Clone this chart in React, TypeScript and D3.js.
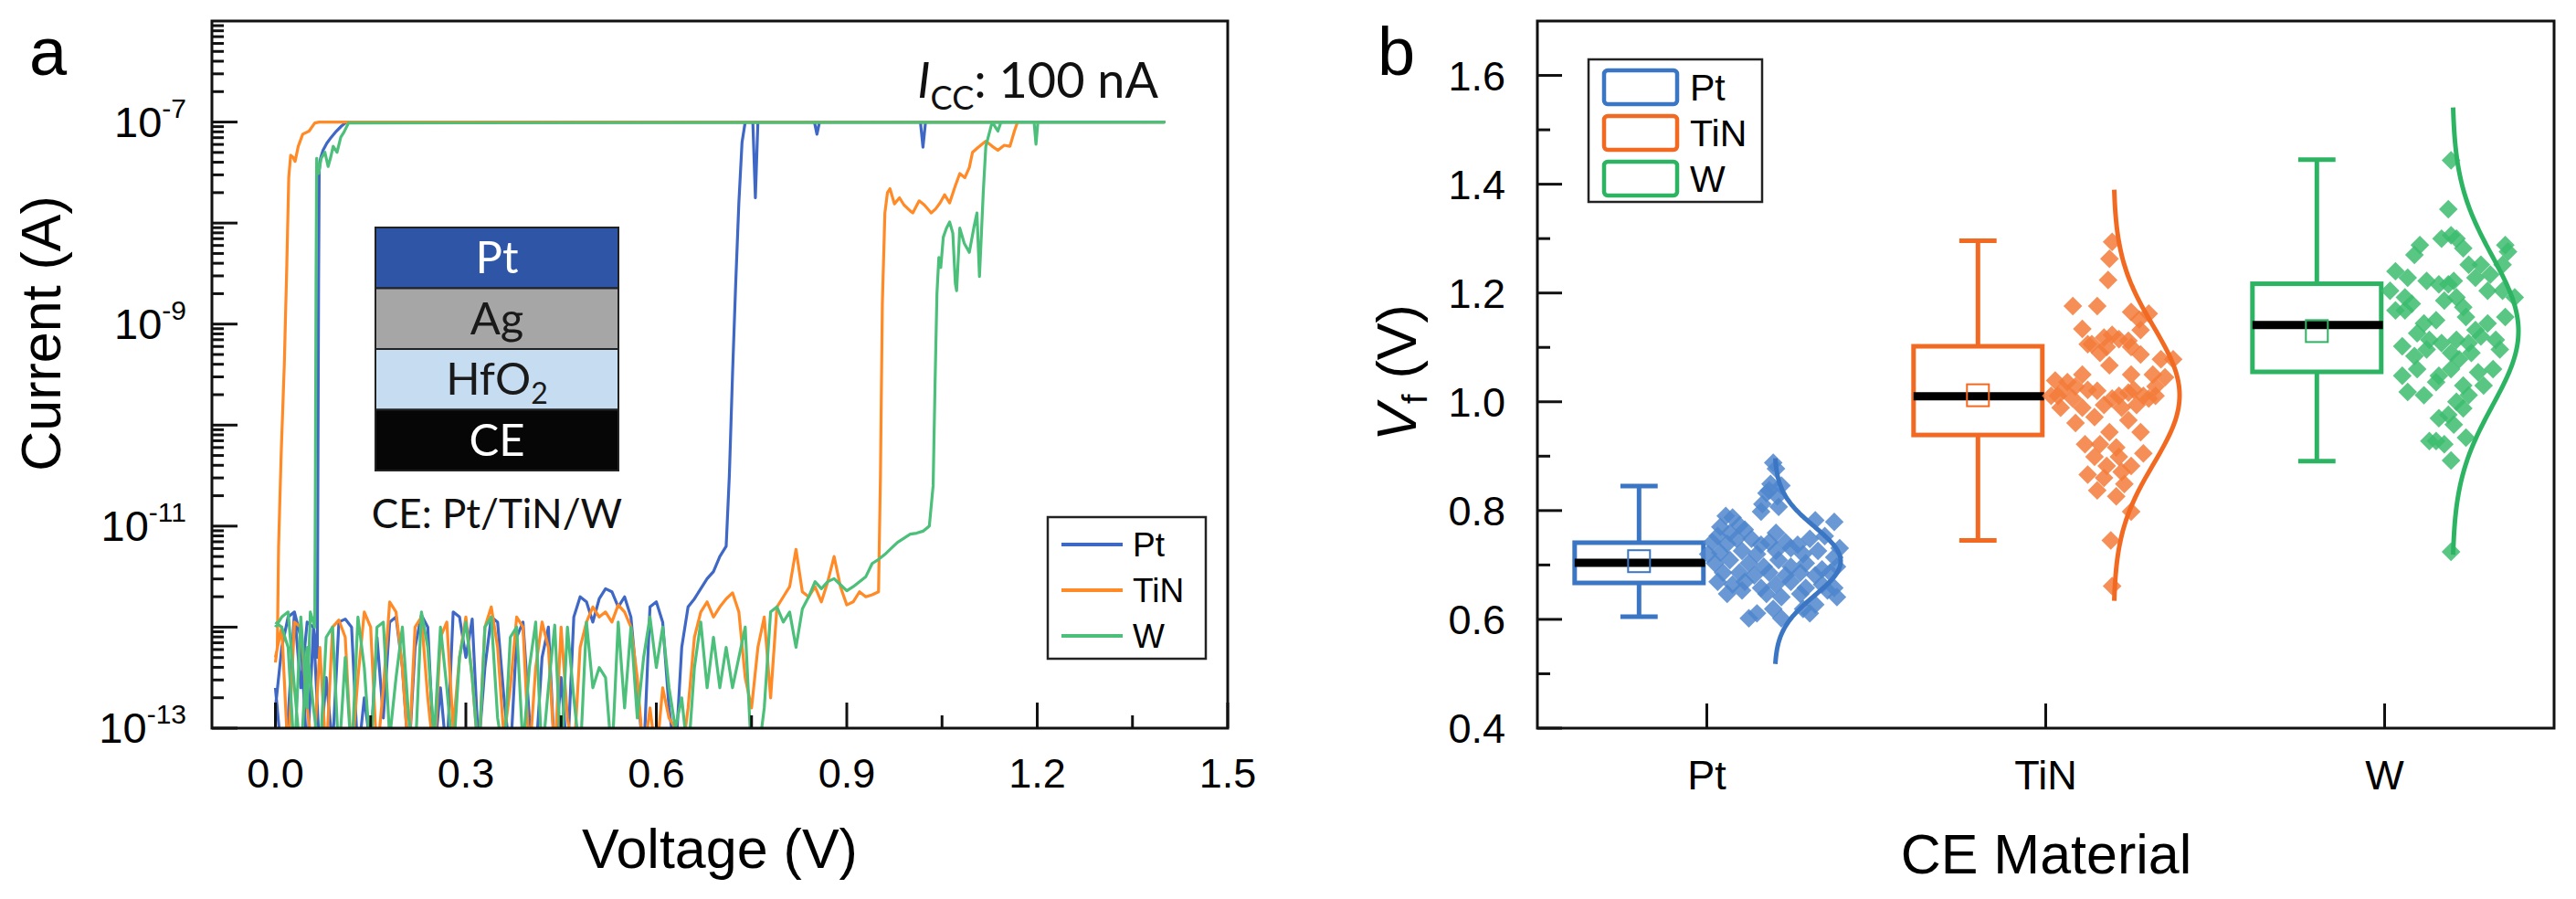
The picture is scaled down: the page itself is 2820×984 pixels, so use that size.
import * as d3 from "d3";
import React, { useEffect, useRef } from "react";

/* ---------------- panel a: I-V sweeps, current kept as log10(I / A) ---------------- */

// forward sweep noise floor, one reading every 10 mV starting at 0 V
const ptNoise = [
  -12.8, -12.2, -11.9, -11.85, -12.6, -11.95, -12.0, -13.3, -12.5, -13.2,
  -11.95, -11.92, -12.0, -13.3, -12.7, -13.2, -12.1, -12.9, -11.95, -11.9,
  -12.4, -13.3, -12.2, -11.88, -12.0, -13.3, -12.6, -13.3, -11.85, -11.9,
  -12.3, -11.92, -13.2, -12.4, -11.9, -11.95, -12.7, -13.3, -12.1, -11.95,
  -12.9, -13.3, -12.3, -12.0, -13.3, -12.5, -13.3, -11.9, -11.7, -11.75,
  -11.95, -11.72, -11.62, -11.65, -11.8, -11.7, -11.9, -12.6, -13.3, -11.8,
  -11.75, -11.95, -12.8, -13.3, -12.2, -11.8, -11.72, -11.62, -11.52, -11.45,
  -11.3, -11.2,
];
const tinNoise = [
  -12.3, -12.0, -13.3, -11.95, -12.0, -12.8, -13.3, -12.2, -13.3, -12.0,
  -11.93, -12.1, -13.3, -12.5, -11.85, -12.0, -13.3, -12.6, -11.75, -11.85,
  -12.4, -13.3, -12.0, -11.9, -12.7, -13.3, -12.1, -11.95, -13.0, -12.3,
  -11.9, -12.5, -13.3, -12.0, -11.8, -12.2, -13.1, -12.6, -11.9, -12.0,
  -13.3, -12.4, -11.95, -12.2, -13.3, -12.0, -12.9, -13.3, -12.2, -11.95,
  -11.8, -11.9, -11.85, -11.95, -11.78, -11.85, -12.0, -12.5, -13.3, -12.8,
  -13.3, -12.6, -12.9, -13.0, -13.3, -12.8, -12.1, -11.85, -11.75, -11.9,
  -11.8, -11.72, -11.66, -11.85, -12.5, -12.8, -12.2, -11.9, -12.7, -11.8,
  -11.7, -11.6, -11.23, -11.65, -11.7, -11.6, -11.75, -11.55, -11.3, -11.6,
  -11.78, -11.75, -11.65, -11.7, -11.68, -11.65,
];
const wNoise = [
  -12.0, -11.9, -11.85, -12.6, -13.3, -12.2, -12.8, -13.3, -12.1, -12.0,
  -13.3, -12.3, -13.3, -11.9, -12.4, -13.3, -12.0, -11.95, -13.1, -12.5,
  -12.0, -12.9, -13.3, -11.85, -12.2, -13.1, -12.0, -12.6, -13.3, -12.3,
  -11.95, -12.5, -13.3, -12.0, -11.9, -12.9, -13.3, -12.1, -12.0, -13.2,
  -12.4, -11.95, -13.3, -12.6, -11.98, -13.3, -12.0, -12.7, -13.3, -11.95,
  -12.6, -12.4, -12.5, -13.3, -11.95, -12.8, -12.0, -12.9, -12.3, -11.9,
  -12.4, -12.0, -12.6, -13.0, -12.7, -13.3, -12.4, -11.95, -12.6, -12.1,
  -12.6, -12.2, -12.6, -12.3, -12.0, -13.3, -13.3, -12.8, -11.85, -11.8,
  -11.95, -11.85, -12.2, -11.82, -11.7, -11.55, -11.62, -11.55, -11.52, -11.58,
  -11.64, -11.6, -11.55, -11.5, -11.37, -11.33, -11.28, -11.22, -11.16, -11.12,
  -11.08, -11.07, -11.05, -11.0,
];

// switching to compliance and on to 1.4 V, [V, log10 I]
const ptSet: [number, number][] = [
  [0.715, -10.5], [0.72, -9.5], [0.725, -8.6], [0.73, -7.8], [0.735, -7.2], [0.74, -7.0],
  [0.752, -7.0], [0.756, -7.75], [0.76, -7.0], [0.849, -7.0], [0.853, -7.12], [0.857, -7.0],
  [1.016, -7.0], [1.02, -7.25], [1.024, -7.0], [1.4, -7.0],
];
const tinSet: [number, number][] = [
  [0.953, -10.5], [0.956, -8.8], [0.96, -7.9], [0.964, -7.7], [0.968, -7.66], [0.975, -7.81],
  [0.983, -7.75], [0.99, -7.82], [1.0, -7.88], [1.004, -7.9], [1.014, -7.78], [1.022, -7.82],
  [1.033, -7.9], [1.04, -7.86], [1.047, -7.8], [1.054, -7.72], [1.062, -7.8], [1.071, -7.63],
  [1.078, -7.51], [1.086, -7.55], [1.093, -7.45], [1.098, -7.3], [1.107, -7.25], [1.119, -7.19],
  [1.129, -7.24], [1.138, -7.28], [1.148, -7.23], [1.157, -7.24], [1.164, -7.09], [1.169, -7.0],
  [1.4, -7.0],
];
const wSet: [number, number][] = [
  [1.036, -10.6], [1.039, -9.6], [1.042, -8.7], [1.045, -8.34], [1.048, -8.44], [1.052, -8.14],
  [1.057, -8.05], [1.062, -7.99], [1.067, -8.1], [1.071, -8.6], [1.073, -8.67], [1.078, -8.05],
  [1.085, -8.2], [1.093, -8.29], [1.1, -8.05], [1.105, -7.9], [1.109, -8.53], [1.115, -7.69],
  [1.119, -7.24], [1.124, -7.12], [1.129, -7.0], [1.134, -7.05], [1.138, -7.09], [1.143, -7.0],
  [1.195, -7.0], [1.198, -7.22], [1.201, -7.0], [1.4, -7.0],
];

// return sweep from 1.4 V back to 0 V
const ptReturn: [number, number][] = [
  [1.4, -7.0], [0.112, -7.0], [0.104, -7.04], [0.096, -7.09], [0.088, -7.15], [0.081, -7.21],
  [0.075, -7.28], [0.071, -7.36], [0.069, -7.48], [0.068, -8.6], [0.067, -10.4], [0.066, -12.3],
  [0.06, -12.0], [0.05, -13.3], [0.04, -12.1], [0.03, -11.85], [0.02, -12.9], [0.01, -13.3], [0.0, -12.6],
];
const tinReturn: [number, number][] = [
  [1.4, -7.0], [0.069, -7.0], [0.062, -7.01], [0.053, -7.09], [0.043, -7.12], [0.036, -7.24],
  [0.031, -7.39], [0.028, -7.35], [0.024, -7.33], [0.021, -7.55], [0.018, -8.4], [0.014, -9.4],
  [0.009, -10.3], [0.005, -11.2], [0.003, -12.2], [0.0, -12.35],
];
const wReturn: [number, number][] = [
  [1.4, -7.0], [0.115, -7.01], [0.108, -7.1], [0.103, -7.15], [0.097, -7.3], [0.091, -7.24],
  [0.087, -7.35], [0.083, -7.44], [0.078, -7.3], [0.072, -7.36], [0.068, -7.51], [0.065, -7.36],
  [0.064, -8.6], [0.063, -10.5], [0.062, -12.0], [0.055, -11.85], [0.05, -12.8], [0.04, -11.9],
  [0.03, -13.3], [0.02, -12.2], [0.01, -12.0], [0.0, -11.95],
];

const sweepNames = ["Pt", "TiN", "W"];
const sweepColors = ["#3f68c6", "#ff8a26", "#4cc07a"];
const voltageTicks = [0, 0.3, 0.6, 0.9, 1.2, 1.5];
const voltageMinorTicks = [0.15, 0.45, 0.75, 1.05, 1.35];
const currentLabelExps = [-7, -9, -11, -13];

/* ---------------- panel b: forming voltage per CE material ---------------- */

const materials = ["Pt", "TiN", "W"];
const whiskerLow = [0.605, 0.745, 0.891];
const quart1 = [0.667, 0.939, 1.055];
const medians = [0.704, 1.01, 1.141];
const quart3 = [0.741, 1.102, 1.217];
const whiskerHigh = [0.845, 1.296, 1.445];
const means = [0.707, 1.012, 1.13];
const stdDevs = [0.063, 0.126, 0.137];
const boxColors = ["#3b76c4", "#f26a22", "#2db463"];
const dotColors = ["#4f86cc", "#f37b3a", "#3cbc6e"];
const vfTicks = [0.4, 0.6, 0.8, 1.0, 1.2, 1.4, 1.6];
const vfMinorTicks = [0.5, 0.7, 0.9, 1.1, 1.3, 1.5];

// [jitter 0..1, Vf]
const ptVf: [number, number][] = [
  [0.49, 0.888], [0.51, 0.877], [0.47, 0.849], [0.55, 0.846], [0.44, 0.832], [0.52, 0.826],
  [0.41, 0.812], [0.4, 0.798], [0.53, 0.807], [0.46, 0.837], [0.14, 0.79], [0.19, 0.787],
  [0.1, 0.77], [0.24, 0.773], [0.28, 0.765], [0.17, 0.759], [0.51, 0.759], [0.8, 0.782],
  [0.94, 0.779], [0.08, 0.753], [0.04, 0.742], [0.15, 0.739], [0.22, 0.748], [0.33, 0.748],
  [0.4, 0.737], [0.46, 0.742], [0.58, 0.742], [0.67, 0.737], [0.76, 0.748], [0.87, 0.753],
  [0.98, 0.731], [0.01, 0.72], [0.1, 0.723], [0.26, 0.726], [0.37, 0.72], [0.51, 0.726],
  [0.62, 0.731], [0.71, 0.72], [0.82, 0.726], [0.94, 0.714], [0.06, 0.703], [0.17, 0.709],
  [0.31, 0.703], [0.42, 0.697], [0.53, 0.709], [0.62, 0.697], [0.73, 0.703], [0.85, 0.692],
  [0.96, 0.697], [0.12, 0.686], [0.24, 0.686], [0.35, 0.681], [0.46, 0.686], [0.58, 0.681],
  [0.69, 0.686], [0.8, 0.681], [0.91, 0.686], [0.08, 0.669], [0.19, 0.664], [0.28, 0.669],
  [0.4, 0.658], [0.51, 0.664], [0.62, 0.669], [0.73, 0.658], [0.85, 0.664], [0.94, 0.658],
  [0.15, 0.647], [0.26, 0.653], [0.44, 0.647], [0.55, 0.641], [0.69, 0.647], [0.89, 0.653],
  [0.96, 0.641], [0.31, 0.602], [0.37, 0.611], [0.49, 0.619], [0.55, 0.602], [0.71, 0.619],
  [0.8, 0.627], [0.76, 0.611],
];
const tinVf: [number, number][] = [
  [0.49, 1.294], [0.47, 1.263], [0.46, 1.224], [0.2, 1.176], [0.38, 1.176], [0.27, 1.134],
  [0.63, 1.165], [0.76, 1.162], [0.69, 1.151], [0.34, 1.106], [0.43, 1.118], [0.49, 1.123],
  [0.54, 1.115], [0.61, 1.112], [0.7, 1.132], [0.94, 1.078], [0.4, 1.09], [0.7, 1.087],
  [0.85, 1.078], [0.47, 1.067], [0.63, 1.05], [0.79, 1.05], [0.88, 1.045], [0.07, 1.039],
  [0.16, 1.036], [0.27, 1.05], [0.31, 1.022], [0.38, 1.02], [0.54, 1.011], [0.61, 1.017],
  [0.72, 1.011], [0.81, 1.011], [0.04, 1.011], [0.2, 1.006], [0.43, 0.994], [0.56, 0.989],
  [0.67, 0.994], [0.11, 0.989], [0.27, 0.989], [0.36, 0.972], [0.22, 0.961], [0.47, 0.944],
  [0.61, 0.966], [0.7, 0.944], [0.29, 0.922], [0.4, 0.922], [0.52, 0.916], [0.72, 0.905],
  [0.36, 0.899], [0.54, 0.899], [0.45, 0.882], [0.63, 0.882], [0.31, 0.866], [0.43, 0.86],
  [0.56, 0.871], [0.38, 0.837], [0.52, 0.826], [0.58, 0.849], [0.63, 0.798], [0.48, 0.745],
  [0.49, 0.661], [0.76, 1.006], [0.09, 1.011], [0.22, 1.028], [0.63, 1.101], [0.81, 1.028],
  [0.31, 1.106], [0.45, 1.101], [0.65, 1.022], [0.13, 1.022], [0.49, 1.006],
];
const wVf: [number, number][] = [
  [0.49, 1.444], [0.47, 1.354], [0.26, 1.288], [0.22, 1.27], [0.49, 1.306], [0.42, 1.3],
  [0.53, 1.3], [0.58, 1.282], [0.89, 1.288], [0.91, 1.276], [0.62, 1.252], [0.71, 1.252],
  [0.08, 1.24], [0.17, 1.228], [0.31, 1.222], [0.4, 1.216], [0.47, 1.216], [0.51, 1.222],
  [0.67, 1.228], [0.78, 1.234], [0.96, 1.192], [0.04, 1.204], [0.15, 1.192], [0.2, 1.18],
  [0.44, 1.186], [0.53, 1.192], [0.58, 1.174], [0.76, 1.204], [0.87, 1.204], [0.08, 1.168],
  [0.29, 1.144], [0.38, 1.15], [0.67, 1.132], [0.76, 1.144], [0.89, 1.156], [0.24, 1.126],
  [0.33, 1.114], [0.42, 1.108], [0.53, 1.114], [0.62, 1.108], [0.71, 1.12], [0.82, 1.114],
  [0.13, 1.102], [0.22, 1.084], [0.31, 1.096], [0.49, 1.09], [0.55, 1.078], [0.64, 1.09],
  [0.85, 1.096], [0.13, 1.048], [0.24, 1.06], [0.4, 1.048], [0.49, 1.06], [0.69, 1.054],
  [0.8, 1.06], [0.17, 1.018], [0.29, 1.012], [0.38, 1.036], [0.58, 1.03], [0.73, 1.03],
  [0.53, 1.0], [0.62, 1.012], [0.47, 0.976], [0.58, 0.988], [0.4, 0.97], [0.51, 0.958],
  [0.38, 0.928], [0.44, 0.922], [0.6, 0.934], [0.49, 0.892], [0.49, 0.724], [0.33, 0.928],
  [0.87, 1.252], [0.15, 1.168], [0.6, 1.156],
];

const ARIAL = "'Liberation Sans', Arial, sans-serif";
const CALIBRI = "Lato, 'Open Sans', sans-serif";

const App: React.FC = () => {
  const svgRef = useRef<SVGSVGElement>(null);

  useEffect(() => {
    if (!svgRef.current) return;
    document.body.style.margin = "0";
    const svg = d3.select(svgRef.current);
    svg.selectAll("*").remove();

    /* ======================= panel a ======================= */
    const ax = d3.scaleLinear().domain([-0.1, 1.5]).range([232, 1344]);
    const ay = d3.scaleLog().domain([1e-13, 1e-6]).range([797, 23]);
    const a = svg.append("g");

    a.append("defs")
      .append("clipPath")
      .attr("id", "clipA")
      .append("rect")
      .attr("x", ax.range()[0])
      .attr("y", ay.range()[1])
      .attr("width", ax.range()[1] - ax.range()[0])
      .attr("height", ay.range()[0] - ay.range()[1]);

    const series = [
      [ptNoise, ptSet, ptReturn],
      [tinNoise, tinSet, tinReturn],
      [wNoise, wSet, wReturn],
    ].map(([noise, set, ret]) => {
      const fwd = (noise as number[]).map((v, i) => [i * 0.01, v] as [number, number]);
      return [...fwd, ...(set as [number, number][]), ...(ret as [number, number][])];
    });

    const line = d3
      .line<[number, number]>()
      .x((d) => ax(d[0]))
      .y((d) => ay(Math.pow(10, d[1])));

    a.append("g")
      .attr("clip-path", "url(#clipA)")
      .selectAll("path")
      .data(series)
      .enter()
      .append("path")
      .attr("d", (d) => line(d))
      .attr("fill", "none")
      .attr("stroke", (_, i) => sweepColors[i])
      .attr("stroke-width", 3.2)
      .attr("stroke-linejoin", "round");

    // ticks, inward
    const axTicks = a.append("g").attr("stroke", "#111").attr("stroke-width", 3);
    voltageTicks.forEach((v) => {
      axTicks.append("line").attr("x1", ax(v)).attr("x2", ax(v)).attr("y1", 797).attr("y2", 797 - 28);
    });
    voltageMinorTicks.forEach((v) => {
      axTicks.append("line").attr("x1", ax(v)).attr("x2", ax(v)).attr("y1", 797).attr("y2", 797 - 14);
    });
    for (let e = -13; e <= -7; e++) {
      for (let k = 1; k <= 9; k++) {
        const yy = ay(k * Math.pow(10, e));
        axTicks.append("line").attr("x1", 232).attr("x2", 232 + (k === 1 ? 28 : 13)).attr("y1", yy).attr("y2", yy);
      }
    }

    a.append("rect")
      .attr("x", 232)
      .attr("y", 23)
      .attr("width", 1344 - 232)
      .attr("height", 797 - 23)
      .attr("fill", "none")
      .attr("stroke", "#111")
      .attr("stroke-width", 3);

    // tick labels
    a.selectAll(".xl")
      .data(voltageTicks)
      .enter()
      .append("text")
      .attr("x", (d) => ax(d))
      .attr("y", 862)
      .attr("text-anchor", "middle")
      .style("font-family", ARIAL)
      .style("font-size", "45px")
      .text((d) => d3.format(".1f")(d));

    currentLabelExps.forEach((e) => {
      const t = a
        .append("text")
        .attr("x", 204)
        .attr("y", ay(Math.pow(10, e)) + 16)
        .attr("text-anchor", "end")
        .style("font-family", ARIAL)
        .style("font-size", "47px");
      t.append("tspan").text("10");
      t.append("tspan").attr("dy", -21).style("font-size", "30px").text(String(e));
    });

    a.append("text")
      .attr("x", 788)
      .attr("y", 950)
      .attr("text-anchor", "middle")
      .style("font-family", ARIAL)
      .style("font-size", "61px")
      .text("Voltage (V)");
    a.append("text")
      .attr("transform", "translate(66,365) rotate(-90)")
      .attr("text-anchor", "middle")
      .style("font-family", ARIAL)
      .style("font-size", "61px")
      .text("Current (A)");

    a.append("text")
      .attr("x", 32)
      .attr("y", 82)
      .style("font-family", ARIAL)
      .style("font-size", "74px")
      .text("a");

    // compliance label
    const icc = a
      .append("text")
      .attr("x", 1268)
      .attr("y", 107)
      .attr("text-anchor", "end")
      .style("font-family", CALIBRI)
      .style("font-size", "54px")
      .attr("fill", "#111");
    icc.append("tspan").style("font-style", "italic").text("I");
    icc.append("tspan").attr("dy", 13).style("font-size", "36px").text("CC");
    icc.append("tspan").attr("dy", -13).text(": 100 nA");

    // stack inset
    const layers = [
      { name: "Pt", fill: "#2f56a6", text: "#fff" },
      { name: "Ag", fill: "#a6a6a6", text: "#1a1a1a" },
      { name: "HfO", fill: "#c6dcf1", text: "#1a1a1a" },
      { name: "CE", fill: "#060606", text: "#fff" },
    ];
    const inset = a.append("g");
    const lh = 66.5;
    layers.forEach((l, i) => {
      inset
        .append("rect")
        .attr("x", 411)
        .attr("y", 249 + i * lh)
        .attr("width", 266)
        .attr("height", lh)
        .attr("fill", l.fill)
        .attr("stroke", "#222")
        .attr("stroke-width", 2);
      const t = inset
        .append("text")
        .attr("x", 544)
        .attr("y", 249 + i * lh + lh / 2 + 17)
        .attr("text-anchor", "middle")
        .style("font-family", CALIBRI)
        .style("font-size", "49px")
        .attr("fill", l.text);
      t.append("tspan").text(l.name);
      if (l.name === "HfO") t.append("tspan").attr("dy", 10).style("font-size", "32px").text("2");
    });
    inset
      .append("text")
      .attr("x", 544)
      .attr("y", 578)
      .attr("text-anchor", "middle")
      .style("font-family", CALIBRI)
      .style("font-size", "44px")
      .attr("fill", "#111")
      .text("CE: Pt/TiN/W");

    // legend a
    const legA = a.append("g");
    legA
      .append("rect")
      .attr("x", 1147)
      .attr("y", 566)
      .attr("width", 173)
      .attr("height", 155)
      .attr("fill", "#fff")
      .attr("stroke", "#222")
      .attr("stroke-width", 2.5);
    sweepNames.forEach((n, i) => {
      const yy = 596 + i * 50;
      legA.append("line").attr("x1", 1162).attr("x2", 1229).attr("y1", yy).attr("y2", yy)
        .attr("stroke", sweepColors[i]).attr("stroke-width", 4);
      legA.append("text").attr("x", 1240).attr("y", yy + 13)
        .style("font-family", ARIAL).style("font-size", "37px").text(n);
    });

    /* ======================= panel b ======================= */
    const bx = d3.scaleLinear().domain([0.5, 3.5]).range([1683, 2796]);
    const by = d3.scaleLinear().domain([0.4, 1.7]).range([797, 23]);
    const b = svg.append("g");

    const groups = [ptVf, tinVf, wVf];

    materials.forEach((m, i) => {
      const c = i + 1;
      const col = boxColors[i];
      const cx = bx(c - 0.2);
      const g = b.append("g");
      // whiskers
      g.append("line").attr("x1", cx).attr("x2", cx).attr("y1", by(whiskerHigh[i])).attr("y2", by(quart3[i]))
        .attr("stroke", col).attr("stroke-width", 5);
      g.append("line").attr("x1", cx).attr("x2", cx).attr("y1", by(quart1[i])).attr("y2", by(whiskerLow[i]))
        .attr("stroke", col).attr("stroke-width", 5);
      [whiskerHigh[i], whiskerLow[i]].forEach((v) => {
        g.append("line").attr("x1", bx(c - 0.255)).attr("x2", bx(c - 0.145)).attr("y1", by(v)).attr("y2", by(v))
          .attr("stroke", col).attr("stroke-width", 5);
      });
      // box
      g.append("rect")
        .attr("x", bx(c - 0.39))
        .attr("y", by(quart3[i]))
        .attr("width", bx(c - 0.01) - bx(c - 0.39))
        .attr("height", by(quart1[i]) - by(quart3[i]))
        .attr("fill", "none")
        .attr("stroke", col)
        .attr("stroke-width", 5);
      // median
      g.append("line").attr("x1", bx(c - 0.39)).attr("x2", bx(c - 0.005)).attr("y1", by(medians[i])).attr("y2", by(medians[i]))
        .attr("stroke", "#000").attr("stroke-width", 9);
      // mean
      g.append("rect").attr("x", cx - 12).attr("y", by(means[i]) - 12).attr("width", 24).attr("height", 24)
        .attr("fill", "none").attr("stroke", col).attr("stroke-width", 2);

      // data points
      const sym = d3.symbol().type(d3.symbolSquare).size(210)();
      g.append("g")
        .selectAll("path")
        .data(groups[i])
        .enter()
        .append("path")
        .attr("d", sym)
        .attr("transform", (d) => `translate(${bx(c + d[0] * 0.4)},${by(d[1])}) rotate(45)`)
        .attr("fill", dotColors[i])
        .attr("fill-opacity", 0.85);

      // fitted normal curve
      const zs = d3.range(-3, 3.0001, 0.05);
      const curve = d3
        .line<number>()
        .x((z) => bx(c + 0.2 + 0.195 * Math.exp(-0.5 * z * z)))
        .y((z) => by(means[i] + z * stdDevs[i]))
        .curve(d3.curveBasis);
      g.append("path").attr("d", curve(zs)).attr("fill", "none").attr("stroke", col).attr("stroke-width", 5);

      // category label
      b.append("text")
        .attr("x", bx(c))
        .attr("y", 864)
        .attr("text-anchor", "middle")
        .style("font-family", ARIAL)
        .style("font-size", "45px")
        .text(m);
    });

    const bTicks = b.append("g").attr("stroke", "#111").attr("stroke-width", 3);
    vfTicks.forEach((v) => {
      bTicks.append("line").attr("x1", 1683).attr("x2", 1683 + 27).attr("y1", by(v)).attr("y2", by(v));
    });
    vfMinorTicks.forEach((v) => {
      bTicks.append("line").attr("x1", 1683).attr("x2", 1683 + 14).attr("y1", by(v)).attr("y2", by(v));
    });
    [1, 2, 3].forEach((c) => {
      bTicks.append("line").attr("x1", bx(c)).attr("x2", bx(c)).attr("y1", 797).attr("y2", 797 - 27);
    });

    b.append("rect")
      .attr("x", 1683)
      .attr("y", 23)
      .attr("width", 2796 - 1683)
      .attr("height", 797 - 23)
      .attr("fill", "none")
      .attr("stroke", "#111")
      .attr("stroke-width", 3);

    b.selectAll(".yl")
      .data(vfTicks)
      .enter()
      .append("text")
      .attr("x", 1648)
      .attr("y", (d) => by(d) + 16)
      .attr("text-anchor", "end")
      .style("font-family", ARIAL)
      .style("font-size", "45px")
      .text((d) => d3.format(".1f")(d));

    b.append("text")
      .attr("x", 2240)
      .attr("y", 956)
      .attr("text-anchor", "middle")
      .style("font-family", ARIAL)
      .style("font-size", "61px")
      .text("CE Material");

    const vl = b
      .append("text")
      .attr("transform", "translate(1550,408) rotate(-90)")
      .attr("text-anchor", "middle")
      .style("font-family", ARIAL)
      .style("font-size", "61px");
    vl.append("tspan").style("font-style", "italic").text("V");
    vl.append("tspan").attr("dy", 12).style("font-size", "38px").text("f");
    vl.append("tspan").attr("dy", -12).text(" (V)");

    b.append("text")
      .attr("x", 1508)
      .attr("y", 82)
      .style("font-family", ARIAL)
      .style("font-size", "74px")
      .text("b");

    // legend b
    const legB = b.append("g");
    legB.append("rect").attr("x", 1739).attr("y", 65).attr("width", 190).attr("height", 156)
      .attr("fill", "#fff").attr("stroke", "#222").attr("stroke-width", 2.5);
    materials.forEach((m, i) => {
      legB.append("rect").attr("x", 1756).attr("y", 77 + i * 50).attr("width", 80).attr("height", 37)
        .attr("rx", 4).attr("fill", "none").attr("stroke", boxColors[i]).attr("stroke-width", 4.5);
      legB.append("text").attr("x", 1850).attr("y", 110 + i * 50)
        .style("font-family", ARIAL).style("font-size", "41px").text(m);
    });
  }, []);

  return <svg ref={svgRef} width={2820} height={984} style={{ display: "block", background: "#fff" }} />;
};

export default App;
